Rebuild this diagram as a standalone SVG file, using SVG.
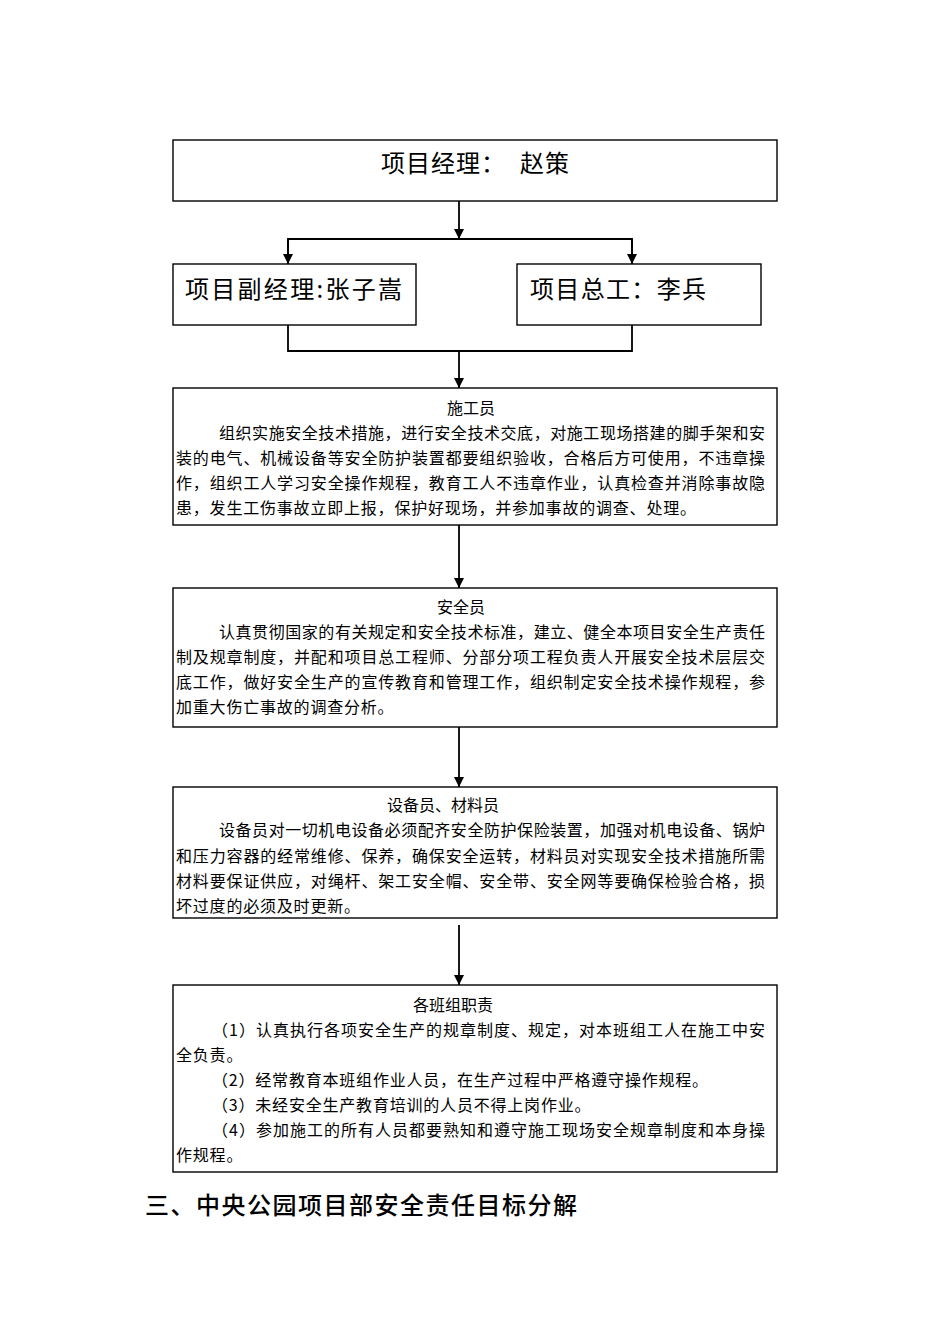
<svg xmlns="http://www.w3.org/2000/svg" width="950" height="1344" viewBox="0 0 950 1344">
<style>
.box{fill:#fff;stroke:#000;stroke-width:1.4}
.t{font-family:"Noto Sans CJK SC","Liberation Sans",sans-serif;fill:#000}
.big{font-size:24px}
.b{font-size:16px}
.conn{fill:none;stroke:#000;stroke-width:1.8}
.h{font-size:24px;font-weight:500}
</style>
<defs>
<marker id="arr" markerUnits="userSpaceOnUse" markerWidth="10" markerHeight="12" viewBox="0 0 10 12" refX="10" refY="6" orient="auto">
<path d="M0,1 L10,6 L0,11 Z" fill="#000"/>
</marker>
</defs>
<rect width="950" height="1344" fill="#fff"/>

<g id="connectors">
<line class="conn" x1="459" y1="201" x2="459" y2="239" marker-end="url(#arr)"/>
<polyline class="conn" points="288,263 288,239 632,239 632,263" stroke-width="2.2"/>
<line class="conn" x1="288" y1="239" x2="288" y2="264" marker-end="url(#arr)"/>
<line class="conn" x1="632" y1="239" x2="632" y2="264" marker-end="url(#arr)"/>
<polyline class="conn" points="288,325 288,351 632,351 632,325"/>
<line class="conn" x1="459" y1="351" x2="459" y2="388" marker-end="url(#arr)"/>
<line class="conn" x1="459" y1="525" x2="459" y2="588" marker-end="url(#arr)"/>
<line class="conn" x1="459" y1="727" x2="459" y2="787" marker-end="url(#arr)"/>
<line class="conn" x1="459" y1="925" x2="459" y2="985" marker-end="url(#arr)"/>
</g>

<g id="n-manager">
<rect class="box" x="173" y="140" width="604" height="61"/>
<text class="t big" x="381" y="172" letter-spacing="1">项目经理：<tspan x="520">赵策</tspan></text>
</g>

<g id="n-deputy">
<rect class="box" x="173" y="264" width="243" height="61"/>
<text class="t big" x="185" y="298" textLength="217" lengthAdjust="spacing">项目副经理:张子嵩</text>
</g>

<g id="n-chief">
<rect class="box" x="517" y="264" width="244" height="61"/>
<text class="t big" x="530" y="298" textLength="176" lengthAdjust="spacing">项目总工：李兵</text>
</g>

<g id="n-constructor">
<rect class="box" x="173" y="388" width="604" height="137"/>
<text class="t b" x="447" y="414">施工员</text>
<text class="t b" x="219" y="439" textLength="546" lengthAdjust="spacing">组织实施安全技术措施，进行安全技术交底，对施工现场搭建的脚手架和安</text>
<text class="t b" x="176" y="464" textLength="589" lengthAdjust="spacing">装的电气、机械设备等安全防护装置都要组织验收，合格后方可使用，不违章操</text>
<text class="t b" x="176" y="489" textLength="589" lengthAdjust="spacing">作，组织工人学习安全操作规程，教育工人不违章作业，认真检查并消除事故隐</text>
<text class="t b" x="176" y="514" letter-spacing="0.8">患，发生工伤事故立即上报，保护好现场，并参加事故的调查、处理。</text>
</g>

<g id="n-safety">
<rect class="box" x="173" y="588" width="604" height="139"/>
<text class="t b" x="437" y="613">安全员</text>
<text class="t b" x="219" y="638" textLength="546" lengthAdjust="spacing">认真贯彻国家的有关规定和安全技术标准，建立、健全本项目安全生产责任</text>
<text class="t b" x="176" y="663" textLength="589" lengthAdjust="spacing">制及规章制度，并配和项目总工程师、分部分项工程负责人开展安全技术层层交</text>
<text class="t b" x="176" y="688" textLength="589" lengthAdjust="spacing">底工作，做好安全生产的宣传教育和管理工作，组织制定安全技术操作规程，参</text>
<text class="t b" x="176" y="713" letter-spacing="0.8">加重大伤亡事故的调查分析。</text>
</g>

<g id="n-equipment">
<rect class="box" x="173" y="787" width="604" height="131"/>
<text class="t b" x="387" y="811">设备员、材料员</text>
<text class="t b" x="219" y="836" textLength="546" lengthAdjust="spacing">设备员对一切机电设备必须配齐安全防护保险装置，加强对机电设备、锅炉</text>
<text class="t b" x="176" y="862" textLength="589" lengthAdjust="spacing">和压力容器的经常维修、保养，确保安全运转，材料员对实现安全技术措施所需</text>
<text class="t b" x="176" y="887" textLength="589" lengthAdjust="spacing">材料要保证供应，对绳杆、架工安全帽、安全带、安全网等要确保检验合格，损</text>
<text class="t b" x="176" y="912" letter-spacing="0.8">坏过度的必须及时更新。</text>
</g>

<g id="n-teams">
<rect class="box" x="173" y="985" width="604" height="187"/>
<text class="t b" x="413" y="1011">各班组职责</text>
<text class="t b" x="212" y="1036" textLength="553" lengthAdjust="spacing">（1）认真执行各项安全生产的规章制度、规定，对本班组工人在施工中安</text>
<text class="t b" x="176" y="1061" letter-spacing="0.8">全负责。</text>
<text class="t b" x="212" y="1086" letter-spacing="0.8">（2）经常教育本班组作业人员，在生产过程中严格遵守操作规程。</text>
<text class="t b" x="212" y="1111" letter-spacing="0.8">（3）未经安全生产教育培训的人员不得上岗作业。</text>
<text class="t b" x="212" y="1136" textLength="553" lengthAdjust="spacing">（4）参加施工的所有人员都要熟知和遵守施工现场安全规章制度和本身操</text>
<text class="t b" x="176" y="1161" letter-spacing="0.8">作规程。</text>
</g>

<text class="t h" x="145" y="1214" textLength="432" lengthAdjust="spacing">三、中央公园项目部安全责任目标分解</text>
</svg>
